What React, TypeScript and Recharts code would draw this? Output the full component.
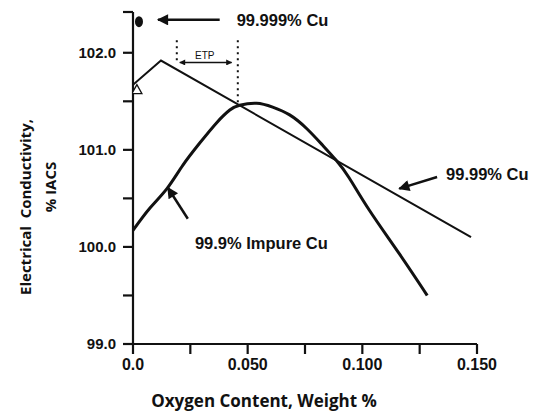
import type { ReactElement } from "react";
import {
  LineChart,
  Line,
  XAxis,
  YAxis,
  Scatter,
  ReferenceLine,
  ReferenceDot,
} from "recharts";

const X_TICKS = [0, 0.025, 0.05, 0.075, 0.1, 0.125, 0.15];
const X_TICK_LABELS = ["0.0", "", "0.050", "", "0.100", "", "0.150"];
const Y_TICKS = [99, 99.5, 100, 100.5, 101, 101.5, 102, 102.42];
const Y_TICK_LABELS = ["99.0", "", "100.0", "", "101.0", "", "102.0", ""];

// 99.99% Cu – straight segments
const PURE_X = [0, 0.0122, 0.1474];
const PURE_Y = [101.67, 101.92, 100.1];

// 99.9% impure Cu – curve
const IMPURE_X = [
  0, 0.0074, 0.0148, 0.0217, 0.0291, 0.0365, 0.0422, 0.0465, 0.0539, 0.0609,
  0.0683, 0.0757, 0.0826, 0.0887, 0.0943, 0.103, 0.1161, 0.1283,
];
const IMPURE_Y = [
  100.17, 100.4, 100.6, 100.84, 101.07, 101.28, 101.41, 101.46, 101.48,
  101.44, 101.36, 101.22, 101.05, 100.89, 100.71, 100.38, 99.93, 99.5,
];

const PURE_DATA = PURE_X.map((x, i) => ({ x, y: PURE_Y[i] }));
const IMPURE_DATA = IMPURE_X.map((x, i) => ({ x, y: IMPURE_Y[i] }));
const DOT_DATA = [{ x: 0.0026, y: 102.32 }];
const TRIANGLE_DATA = [{ x: 0.0017, y: 101.62 }];

const INK = "#111";
const SANS = "'Liberation Sans', Arial, sans-serif";
const TITLE_FONT = "'Open Sans', 'Liberation Sans', sans-serif";
const X_TICK = { fill: INK, fontSize: 16, fontWeight: 700, fontFamily: SANS };
const Y_TICK = { fill: INK, fontSize: 15, fontWeight: 700, fontFamily: SANS };
const NOTE = { fill: INK, fontSize: 16.5, fontWeight: 700, fontFamily: SANS };

function Triangle(props: any): ReactElement {
  const { cx, cy } = props;
  return (
    <polygon
      points={`${cx},${cy - 5} ${cx - 5},${cy + 4} ${cx + 5},${cy + 4}`}
      fill="#fff"
      stroke={INK}
      strokeWidth={1.3}
    />
  );
}

function BigDot(props: any): ReactElement {
  const { cx, cy } = props;
  return <ellipse cx={cx} cy={cy} rx={4} ry={5.5} fill={INK} />;
}

export default function App(): ReactElement {
  return (
    <div
      style={{
        position: "absolute",
        left: 0,
        top: 0,
        width: 542,
        height: 412,
        background: "#fff",
      }}
    >
      <LineChart
        width={542}
        height={412}
        margin={{ top: 12, right: 65, bottom: 38, left: 73 }}
      >
        <defs>
          <marker
            id="head"
            viewBox="0 0 10 10"
            refX="9"
            refY="5"
            markerWidth="6"
            markerHeight="4.5"
            orient="auto-start-reverse"
          >
            <path d="M0,0 L10,5 L0,10 z" fill={INK} />
          </marker>
          <marker
            id="small"
            viewBox="0 0 10 10"
            refX="9"
            refY="5"
            markerWidth="5"
            markerHeight="4"
            orient="auto-start-reverse"
          >
            <path d="M0,0 L10,5 L0,10 z" fill={INK} />
          </marker>
        </defs>
        <XAxis
          type="number"
          dataKey="x"
          domain={[0, 0.15]}
          ticks={X_TICKS}
          tickFormatter={(_v: number, i: number) => X_TICK_LABELS[i]}
          stroke={INK}
          strokeWidth={2.2}
          tickSize={10}
          tickMargin={5}
          tick={X_TICK}
          height={30}
          allowDataOverflow
        />
        <YAxis
          type="number"
          dataKey="y"
          domain={[99, 102.42]}
          ticks={Y_TICKS}
          tickFormatter={(_v: number, i: number) => Y_TICK_LABELS[i]}
          stroke={INK}
          strokeWidth={2.2}
          tickSize={10}
          tickMargin={7}
          tick={Y_TICK}
          width={60}
          allowDataOverflow
        />
        <Line
          data={PURE_DATA}
          dataKey="y"
          type="linear"
          stroke={INK}
          strokeWidth={2}
          dot={false}
          isAnimationActive={false}
        />
        <Line
          data={IMPURE_DATA}
          dataKey="y"
          type="natural"
          stroke={INK}
          strokeWidth={3}
          dot={false}
          isAnimationActive={false}
        />
        <Scatter data={DOT_DATA} shape={BigDot} isAnimationActive={false} />
        <Scatter
          data={TRIANGLE_DATA}
          shape={Triangle}
          isAnimationActive={false}
        />

        {/* ETP range markers */}
        <ReferenceLine
          segment={[
            { x: 0.0191, y: 102.13 },
            { x: 0.0191, y: 101.9 },
          ]}
          stroke={INK}
          strokeWidth={2}
          strokeDasharray="2 4"
        />
        <ReferenceLine
          segment={[
            { x: 0.0457, y: 102.13 },
            { x: 0.0457, y: 101.48 },
          ]}
          stroke={INK}
          strokeWidth={2}
          strokeDasharray="2 4"
        />
        <ReferenceLine
          segment={[
            { x: 0.0204, y: 101.9 },
            { x: 0.043, y: 101.9 },
          ]}
          stroke={INK}
          strokeWidth={1.5}
          markerStart="url(#small)"
          markerEnd="url(#small)"
        />
        <ReferenceDot
          x={0.0313}
          y={101.97}
          r={0}
          stroke="none"
          label={{
            value: "ETP",
            position: "center",
            fill: INK,
            fontSize: 10,
            fontFamily: SANS,
          }}
        />

        {/* arrows */}
        <ReferenceLine
          segment={[
            { x: 0.0378, y: 102.34 },
            { x: 0.0109, y: 102.34 },
          ]}
          stroke={INK}
          strokeWidth={2.5}
          markerEnd="url(#head)"
        />
        <ReferenceLine
          segment={[
            { x: 0.1326, y: 100.72 },
            { x: 0.1161, y: 100.6 },
          ]}
          stroke={INK}
          strokeWidth={2.5}
          markerEnd="url(#head)"
        />
        <ReferenceLine
          segment={[
            { x: 0.0239, y: 100.29 },
            { x: 0.0152, y: 100.61 },
          ]}
          stroke={INK}
          strokeWidth={2.5}
          markerEnd="url(#head)"
        />

        {/* labels */}
        <ReferenceDot
          x={0.0452}
          y={102.34}
          r={0}
          stroke="none"
          label={{ value: "99.999% Cu", position: "right", offset: 0, ...NOTE }}
        />
        <ReferenceDot
          x={0.1365}
          y={100.75}
          r={0}
          stroke="none"
          label={{ value: "99.99% Cu", position: "right", offset: 0, ...NOTE }}
        />
        <ReferenceDot
          x={0.027}
          y={100.04}
          r={0}
          stroke="none"
          label={{ value: "99.9% Impure Cu", position: "right", offset: 0, ...NOTE }}
        />

        {/* axis titles */}
        <text
          x={25}
          y={207}
          transform="rotate(-90 25 207)"
          textAnchor="middle"
          dominantBaseline="central"
          fill={INK}
          fontSize={15}
          fontWeight={700}
          fontFamily={TITLE_FONT}
          style={{ whiteSpace: "pre" }}
        >
          {"Electrical  Conductivity,"}
        </text>
        <text
          x={50}
          y={187}
          transform="rotate(-90 50 187)"
          textAnchor="middle"
          dominantBaseline="central"
          fill={INK}
          fontSize={15}
          fontWeight={700}
          fontFamily={TITLE_FONT}
        >
          % IACS
        </text>
        <text
          x={264}
          y={400}
          textAnchor="middle"
          dominantBaseline="central"
          fill={INK}
          fontSize={17}
          fontWeight={700}
          fontFamily={TITLE_FONT}
        >
          Oxygen Content, Weight %
        </text>
      </LineChart>
    </div>
  );
}
